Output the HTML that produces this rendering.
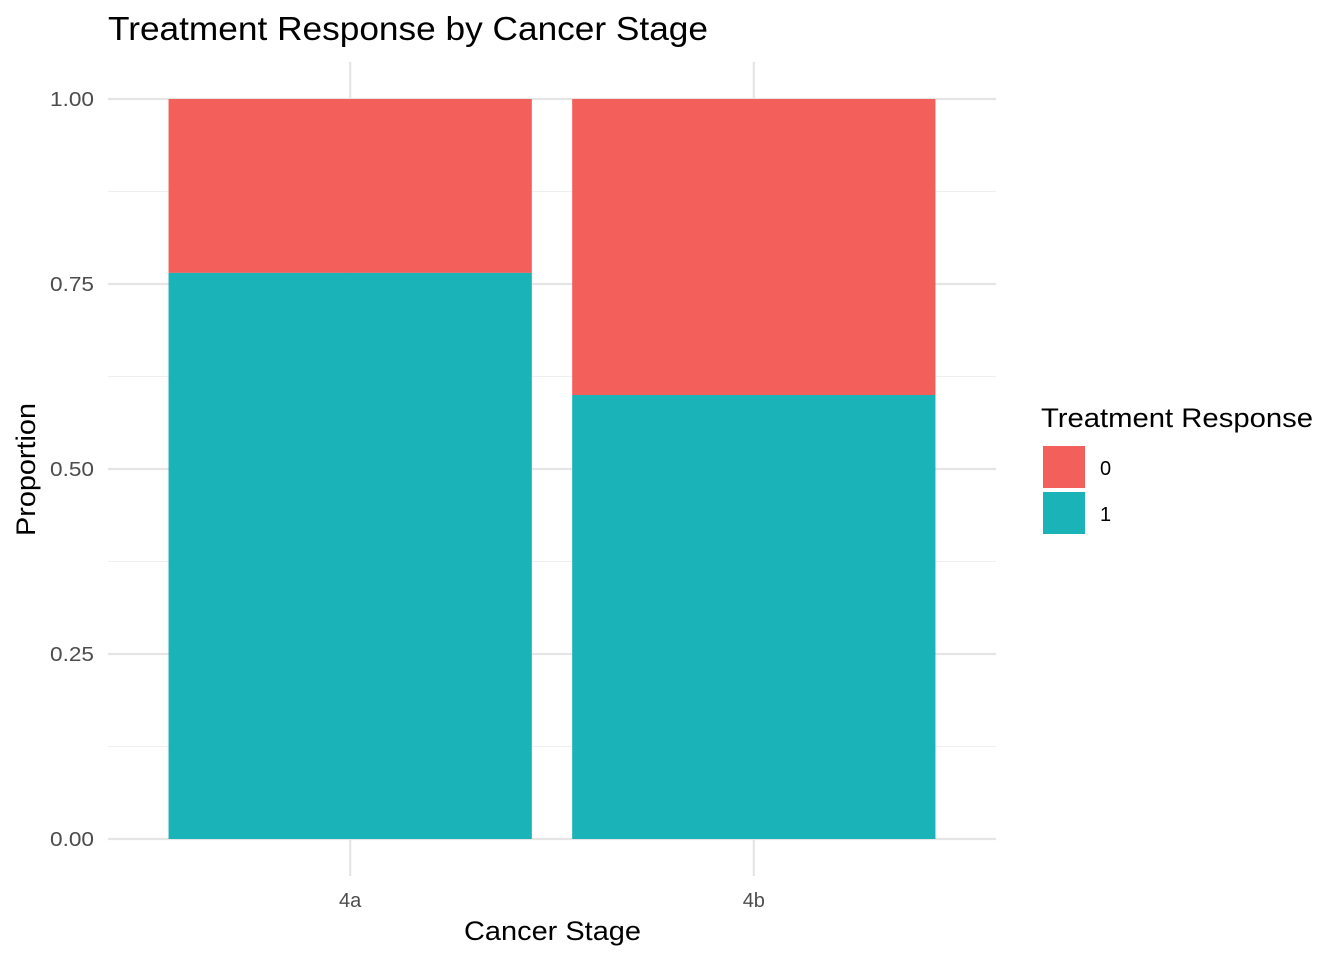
<!DOCTYPE html>
<html><head><meta charset="utf-8"><style>
html,body{margin:0;padding:0;background:#fff;}
svg{display:block;font-family:"Liberation Sans",Arial,sans-serif;}
</style></head><body>
<svg id="chart" width="1344" height="960" viewBox="0 0 1344 960">
<text x="108" y="40" font-size="33" textLength="600" lengthAdjust="spacingAndGlyphs" fill="#000">Treatment Response by Cancer Stage</text>
<g id="grid"></g>
<g id="bars"></g>
<g id="axes"></g>
<text x="464" y="940" font-size="27" textLength="177" lengthAdjust="spacingAndGlyphs" fill="#000">Cancer Stage</text>
<text transform="translate(35,536) rotate(-90)" font-size="27" textLength="133" lengthAdjust="spacingAndGlyphs" fill="#000">Proportion</text>
<g>
<text x="1041" y="427" font-size="27" textLength="272" lengthAdjust="spacingAndGlyphs" fill="#000">Treatment Response</text>
<rect x="1043" y="446" width="42" height="42" fill="#F3605B"/>
<text x="1100" y="475" font-size="20" fill="#000">0</text>
<rect x="1043" y="492" width="42" height="42" fill="#1AB3B8"/>
<text x="1100" y="521" font-size="20" fill="#000">1</text>
</g>
</svg>
<script>
const categories = ["4a", "4b"];
const response1 = [0.765, 0.6];
const yTicks = [0, 0.25, 0.5, 0.75, 1.0];
const yTickLabels = ["0.00", "0.25", "0.50", "0.75", "1.00"];

const NS = "http://www.w3.org/2000/svg";
const pL = 108, pR = 996, y0 = 839, y1 = 99;
const band = (pR - pL) / (categories.length - 1 + 1.2);
function xPos(i){ return pL + band * (0.6 + i); }
function yPos(v){ return y0 - (y0 - y1) * v; }
function mk(tag, attrs, parent){ const e = document.createElementNS(NS, tag); for (const k in attrs) e.setAttribute(k, attrs[k]); parent.appendChild(e); return e; }
const grid = document.getElementById('grid'), bars = document.getElementById('bars'), axes = document.getElementById('axes');
for (let i = 0; i < yTicks.length; i++) {
  const y = yPos(yTicks[i]);
  const l = mk('line', {x1: pL, x2: pR, y1: y, y2: y, stroke: '#e5e5e5', 'stroke-width': 2.2}, grid);
  
  
  if (i < yTicks.length - 1) {
    const ym = yPos((yTicks[i] + yTicks[i+1]) / 2);
    const m = mk('line', {x1: pL, x2: pR, y1: ym, y2: ym, stroke: '#efefef', 'stroke-width': 1.1}, grid);
    
    
  }
  const t = mk('text', {x: 94, y: y + 7, 'font-size': 20, textLength: 44, lengthAdjust: 'spacingAndGlyphs', 'text-anchor': 'end', fill: '#4d4d4d'}, axes);
  t.textContent = yTickLabels[i];
  
  
}
for (let i = 0; i < categories.length; i++) {
  const x = xPos(i);
  const g = mk('line', {x1: x, x2: x, y1: 62, y2: 876, stroke: '#e5e5e5', 'stroke-width': 2.2}, grid);
  
  
  const w = band * 0.9;
  const r0 = mk('rect', {x: x - w/2, y: yPos(1), width: w, height: yPos(response1[i]) - yPos(1), fill: '#F3605B'}, bars);
  
  
  const r1 = mk('rect', {x: x - w/2, y: yPos(response1[i]), width: w, height: yPos(0) - yPos(response1[i]), fill: '#1AB3B8'}, bars);
  
  
  const t = mk('text', {x: x, y: 907, 'font-size': 20, 'text-anchor': 'middle', fill: '#4d4d4d'}, axes);
  t.textContent = categories[i];
  
  
}
</script>
</body></html>
